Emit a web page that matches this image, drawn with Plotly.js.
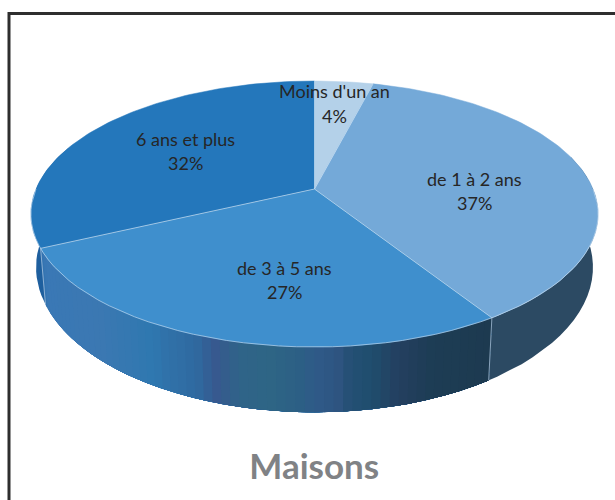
<!DOCTYPE html>
<html><head><meta charset="utf-8">
<script src="https://cdn.plot.ly/plotly-3.0.1.min.js"></script>
<style>html,body{margin:0;padding:0;background:#fff}#c{width:615px;height:500px}</style>
</head><body><div id="c"></div>
<script>
// Data
const categories = ["Moins d'un an", "de 1 à 2 ans", "de 3 à 5 ans", "6 ans et plus"];
const values = [4, 37, 27, 32];
const sliceColors = ["#b4d1e9", "#74a9d8", "#3f8fcd", "#2477bb"];
const chartTitle = "Maisons";

// Label anchors (page pixels: x, first line y, second line y)
const labelX = [334, 474, 284, 185];
const labelY1 = [91, 179, 268, 139];
const labelY2 = [116, 203, 292, 163];

// Perspective of the disc
const cx = 314.5, cy = 189, k = 0.188, A = 278.5, B = 128.3;
const shrink = 0.982, stretch = 1.09, drop = 51;

// Side wall shading, left to right on the page
const wallX = [30, 45, 100, 150, 170, 195, 215, 240, 270, 300, 315, 340, 350, 370, 400, 430, 487];
const wallC = ["#1f64a4","#3a78b5","#3b78b2","#2f78b0","#3070a8","#2f6aa0","#37598f","#2f6488","#2e6585","#2c5f85","#2f5a88","#2e5480","#244f74","#1f4e6e","#243f60","#1d3d55","#1d3a50"];
const wallRight = "#2c4a63";
const wallLeftEdge = "#1e5f9e";

function topPt(t){const u=Math.sin(t),v=Math.cos(t),d=1+k*v;return [cx+A*u/d, cy-B*v/d];}
function botPt(t){const p=topPt(t);return [cx+shrink*(p[0]-cx), cy+stretch*(p[1]-cy)+drop];}
function hex(c){return [1,3,5].map(i=>parseInt(c.substr(i,2),16));}
function shade(x){
  let i=0; while(i<wallX.length-2 && x>wallX[i+1]) i++;
  const f=Math.max(0,Math.min(1,(x-wallX[i])/(wallX[i+1]-wallX[i])));
  const a=hex(wallC[i]),b=hex(wallC[i+1]);
  return 'rgb('+a.map((v,j)=>Math.round(v+(b[j]-v)*f)).join(',')+')';
}
const total = values.reduce((a,b)=>a+b,0);
let cum=[0]; values.forEach(v=>cum.push(cum[cum.length-1]+v));
const ang = cum.map(c=>c/total*2*Math.PI);
const rad = d=>d*Math.PI/180;

const traces=[];
function poly(xs,ys,color){
  traces.push({type:'scatter',mode:'lines',x:xs,y:ys,fill:'toself',fillcolor:color,
    line:{color:color,width:0},hoverinfo:'skip',showlegend:false});
}
function band(a,b,color,n){
  const xs=[],ys=[];
  for(let j=0;j<=n;j++){const p=topPt(a+(b-a)*j/n);xs.push(p[0]);ys.push(p[1]);}
  for(let j=n;j>=0;j--){const p=botPt(a+(b-a)*j/n);xs.push(p[0]);ys.push(p[1]);}
  xs.push(xs[0]);ys.push(ys[0]);
  poly(xs,ys,color);
}
// walls: solid ends, then the shaded front painted from its right end to its left end,
// each band running on under the previous so no seams show
band(rad(75),ang[2]+0.02,wallRight,24);
band(ang[3]-0.02,rad(290),wallLeftEdge,20);
(function(){
  const steps=60,t0=ang[2],t1=ang[3];
  for(let i=steps-1;i>=0;i--){
    const a=t0+(t1-t0)*i/steps,b=t0+(t1-t0)*(i+1)/steps;
    const m=topPt((a+b)/2);
    band(t0,b,shade(m[0]),Math.max(2,Math.round((i+1)/2)));
  }
})();

// top slices
values.forEach((v,i)=>{
  const xs=[cx],ys=[cy],n=Math.max(8,Math.round(v*3));
  for(let j=0;j<=n;j++){const p=topPt(ang[i]+(ang[i+1]-ang[i])*j/n);xs.push(p[0]);ys.push(p[1]);}
  xs.push(cx);ys.push(cy);
  traces.push({type:'scatter',mode:'lines',x:xs,y:ys,fill:'toself',fillcolor:sliceColors[i],
    line:{color:sliceColors[i],width:0.5},hoverinfo:'skip',showlegend:false});
});
function stroke(xs,ys,color,w){
  traces.push({type:'scatter',mode:'lines',x:xs,y:ys,line:{color:color,width:w},hoverinfo:'skip',showlegend:false});
}
// separators
const sep="rgba(205,226,244,0.7)";
ang.slice(0,4).forEach(t=>{const p=topPt(t);stroke([cx,p[0]],[cy,p[1]],sep,1);});
// front rim
(function(){const xs=[],ys=[];for(let j=0;j<=60;j++){const p=topPt(rad(90)+(rad(270)-rad(90))*j/60);xs.push(p[0]);ys.push(p[1]);}
  stroke(xs,ys,"rgba(190,215,238,0.7)",1);})();
// wall seams
[ang[2],ang[3]].forEach(t=>{const a=topPt(t),b=botPt(t);stroke([a[0],b[0]],[a[1],b[1]],"rgba(175,200,225,0.75)",1);});

const annotations=[];
categories.forEach((c,i)=>{
  [[c,labelY1[i]],[values[i]+'%',labelY2[i]]].forEach(r=>{
    annotations.push({xref:'x',yref:'y',x:labelX[i],y:r[1],text:r[0],showarrow:false,
      xanchor:'center',yanchor:'middle',font:{family:'Lato, "Open Sans", sans-serif',size:18,color:'#262626'}});
  });
});

const layout={
  width:615,height:500,margin:{l:0,r:0,t:0,b:0},paper_bgcolor:'#fff',plot_bgcolor:'#fff',showlegend:false,
  xaxis:{range:[0,615],visible:false,fixedrange:true},
  yaxis:{range:[500,0],visible:false,fixedrange:true},
  title:{text:'<b>'+chartTitle+'</b>',x:0.511,xanchor:'center',y:1-467/500,yanchor:'middle',
    font:{family:'Lato, "Open Sans", sans-serif',size:35,color:'#808285'}},
  annotations:annotations,
  shapes:[
    {type:'line',xref:'x',yref:'y',x0:9,x1:615,y0:13.5,y1:13.5,line:{color:'#2e2e2e',width:3}},
    {type:'line',xref:'x',yref:'y',x0:9,x1:9,y0:12,y1:500,line:{color:'#2e2e2e',width:3}}
  ]
};
Plotly.newPlot('c',traces,layout,{displayModeBar:false,staticPlot:true});
</script></body></html>
